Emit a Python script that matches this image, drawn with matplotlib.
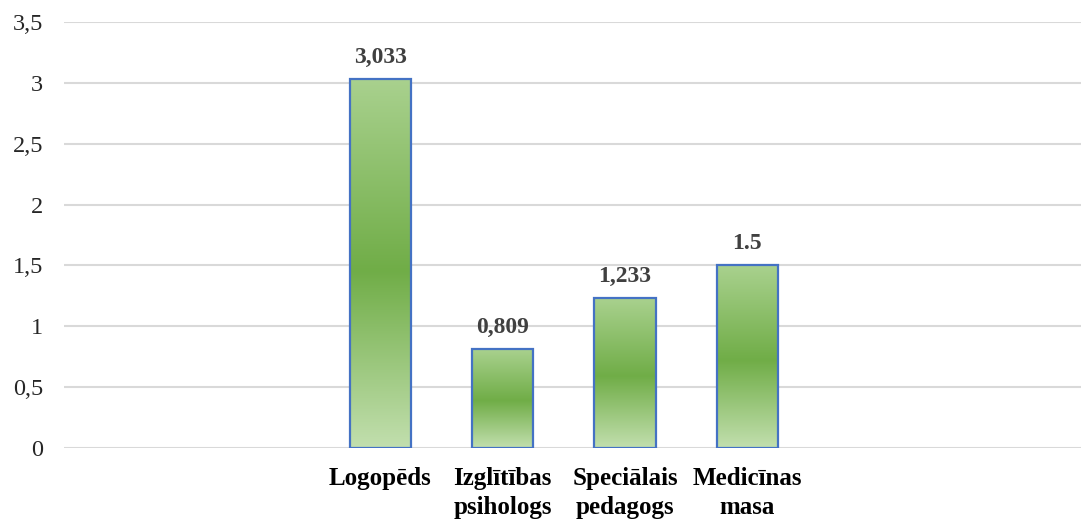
import numpy as np
import matplotlib
matplotlib.use("Agg")
import matplotlib.pyplot as plt
from matplotlib.colors import LinearSegmentedColormap

categories = ["Logopēds", "Izglītības\npsihologs", "Speciālais\npedagogs", "Medicīnas\nmasa"]
values = [3.033, 0.809, 1.233, 1.5]
value_labels = ["3,033", "0,809", "1,233", "1.5"]
y_ticks = [0, 0.5, 1, 1.5, 2, 2.5, 3, 3.5]
y_tick_labels = ["0", "0,5", "1", "1,5", "2", "2,5", "3", "3,5"]

plt.rcParams["font.family"] = ["Liberation Serif", "DejaVu Serif"]

fig = plt.figure(figsize=(10.83, 5.25), dpi=100)
ax = fig.add_axes([0.0591, 0.1472, 0.9389, 0.8103])

# gradient: light top, darker middle, lightest bottom
cmap = LinearSegmentedColormap.from_list(
    "grn", [(0.0, "#c2dfae"), (0.48, "#70ad47"), (1.0, "#a9d18e")]
)
grad = np.linspace(0, 1, 256).reshape(-1, 1)

x = np.arange(len(categories))
bars = ax.bar(x, values, width=0.503, color="none", edgecolor="#4472c4",
              linewidth=1.6, zorder=3)
for b in bars:
    im = ax.imshow(grad, cmap=cmap, origin="lower", aspect="auto",
                   extent=[b.get_x(), b.get_x() + b.get_width(), 0, b.get_height()],
                   zorder=2)
    im.set_clip_path(b)

for xi, v, lab in zip(x, values, value_labels):
    ax.annotate(lab, (xi, v), xytext=(0, 11.5), textcoords="offset points",
                ha="center", va="baseline", fontsize=17, fontweight="bold",
                color="#404040")

ax.set_xlim(-2.588, 5.728)
ax.set_ylim(0, 3.5)
ax.set_yticks(y_ticks)
ax.set_yticklabels(y_tick_labels, fontsize=17.5, color="#262626")
ax.set_xticks(x)
ax.set_xticklabels(categories, fontsize=18, fontweight="bold", color="black",
                   linespacing=1.3)
ax.tick_params(axis="both", length=0)
ax.tick_params(axis="y", pad=15)
ax.tick_params(axis="x", pad=14)
ax.grid(axis="y", color="#d9d9d9", linewidth=1.5, zorder=0)
ax.set_axisbelow(True)
for s in ax.spines.values():
    s.set_visible(False)

fig.savefig("out.png", dpi=100)
